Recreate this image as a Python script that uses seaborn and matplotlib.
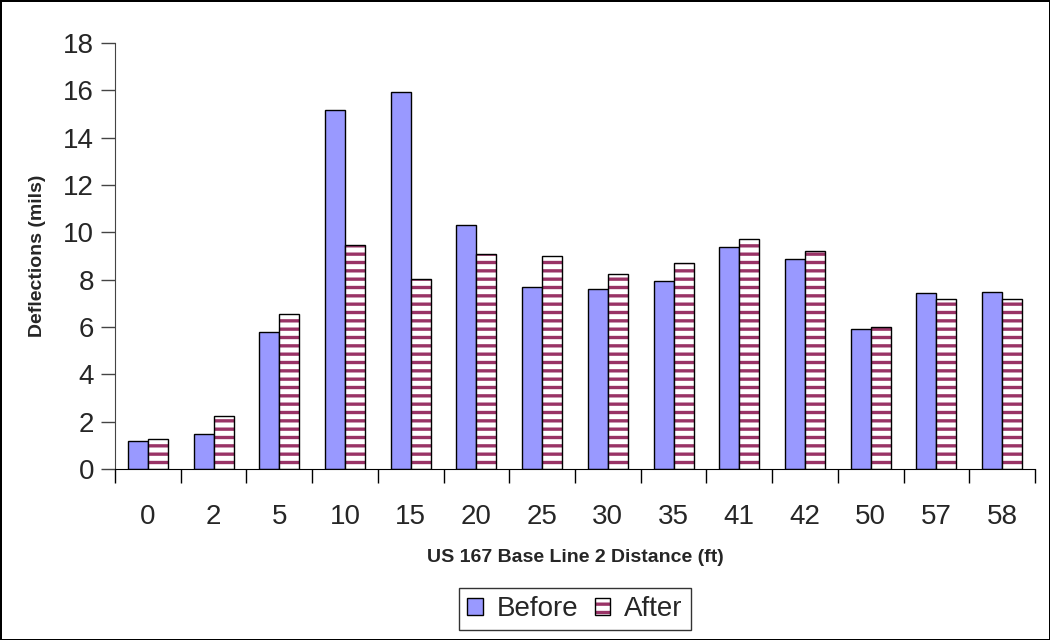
import matplotlib
matplotlib.use("Agg")
import matplotlib.pyplot as plt
from matplotlib.patches import Patch
from matplotlib.colors import to_rgba
import pandas as pd
import seaborn as sns

# Deflection readings along US 167 Base Line 2
distances = ["0", "2", "5", "10", "15", "20", "25", "30", "35", "41", "42", "50", "57", "58"]
before = [1.2, 1.47, 5.8, 15.15, 15.95, 10.33, 7.7, 7.6, 7.95, 9.4, 8.87, 5.9, 7.42, 7.48]
after = [1.25, 2.23, 6.55, 9.48, 8.02, 9.1, 8.98, 8.23, 8.7, 9.7, 9.22, 5.98, 7.18, 7.18]
series = ["Before", "After"]
y_ticks = list(range(0, 19, 2))

BLUE = "#9999FF"
MAROON = "#993366"

sns.set_style("white")
plt.rcParams["font.family"] = ["Liberation Sans", "DejaVu Sans"]
plt.rcParams["hatch.linewidth"] = 2.4

df = pd.DataFrame({
    "distance": distances * 2,
    "deflection": before + after,
    "series": [series[0]] * len(distances) + [series[1]] * len(distances),
})

fig = plt.figure(figsize=(10.5, 6.4), dpi=100)
ax = fig.add_axes([115 / 1050, 1 - 469 / 640, 920 / 1050, 426 / 640])

sns.barplot(data=df, x="distance", y="deflection", hue="series",
            order=distances, hue_order=series,
            palette=[BLUE, "white"], width=0.61, gap=0,
            edgecolor="black", linewidth=1.0, saturation=1,
            legend=False, ax=ax)

# horizontal maroon stripes on the "After" bars, keeping the black outline
for bar in ax.containers[1]:
    bar.set_hatch("--")
    bar._hatch_color = to_rgba(MAROON)

ax.set_xlim(-0.5, len(distances) - 0.5)
ax.set_ylim(0, 18)
ax.set_yticks(y_ticks)

for side in ("top", "right"):
    ax.spines[side].set_visible(False)
ax.spines["left"].set_color("#444444")
ax.spines["bottom"].set_color("black")

# category labels centred, tick marks between categories
ax.set_xticks([i - 0.5 for i in range(len(distances) + 1)], minor=True)
ax.tick_params(axis="x", which="major", bottom=True, length=0, pad=25, labelsize=20)
ax.tick_params(axis="x", which="minor", bottom=True, length=10, width=1,
               color="black", direction="out")
ax.tick_params(axis="y", left=True, length=10, width=1, color="#444444",
               direction="out", pad=5, labelsize=20)

ax.set_xlabel("US 167 Base Line 2 Distance (ft)", fontsize=14, fontweight="bold")
ax.set_ylabel("Deflections (mils)", fontsize=14, fontweight="bold")
ax.xaxis.set_label_coords(0.5, (469 - 549) / 426)
ax.yaxis.set_label_coords((46 - 115) / 920, 0.5)

before_handle = Patch(facecolor=BLUE, edgecolor="black", linewidth=1.0)
after_handle = Patch(facecolor="white", edgecolor="black", linewidth=1.0, hatch="--")
after_handle._hatch_color = to_rgba(MAROON)
leg = fig.legend([before_handle, after_handle], series, ncol=2,
                 loc="center", bbox_to_anchor=(575 / 1050, 1 - 609 / 640),
                 fontsize=20, frameon=True, fancybox=False, edgecolor="black",
                 handlelength=0.55, handleheight=0.55, handletextpad=0.5,
                 columnspacing=0.6, borderpad=0.3, borderaxespad=0)
leg.get_frame().set_linewidth(1.0)

fig.patch.set_edgecolor("black")
fig.patch.set_linewidth(2)

fig.savefig("out.png", dpi=100, edgecolor=fig.get_edgecolor())
